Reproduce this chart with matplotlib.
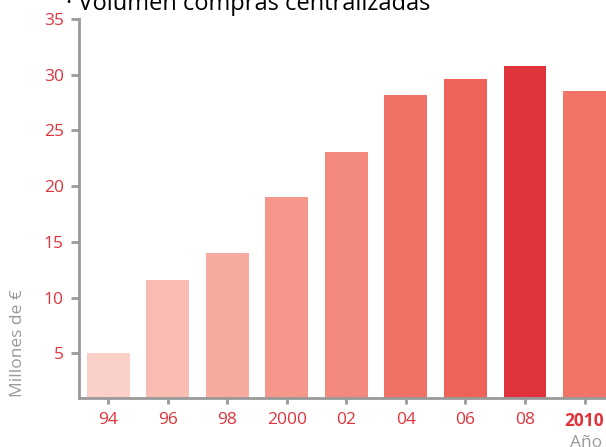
import matplotlib.pyplot as plt

years = ['94', '96', '98', '2000', '02', '04', '06', '08', '2010']
values = [5.0, 11.6, 14.0, 19.0, 23.1, 28.2, 29.6, 30.8, 28.5]
colors = ['#FAD0C9', '#F9BCB3', '#F7AA9E', '#F5978B', '#F3887C', '#F07267',
          '#EE625A', '#E0333B', '#F07468']
yticks = [5, 10, 15, 20, 25, 30, 35]

red = '#E0333B'
grey = '#999999'

plt.rcParams['font.family'] = ['Open Sans', 'DejaVu Sans']

fig = plt.figure(figsize=(6.06, 4.47), dpi=100)
ax = fig.add_axes([79 / 606, 1 - 398 / 447, 1 - 79 / 606, (398 - 19) / 447])

x = range(len(years))
ax.bar(x, values, width=0.72, color=colors, bottom=0)
ax.set_xlim(-0.49, 8.36)
ax.set_ylim(1, 35)

ax.set_xticks(list(x))
ax.set_xticklabels(years)
ax.set_yticks(yticks)
ax.tick_params(axis='both', colors=grey, labelcolor=red, labelsize=12.5,
               width=2, length=6)
ax.tick_params(axis='x', length=4, pad=6)
ax.tick_params(axis='y', pad=5)
ax.get_xticklabels()[-1].set_fontweight('bold')

for s in ['top', 'right']:
    ax.spines[s].set_visible(False)
for s in ['left', 'bottom']:
    ax.spines[s].set_color(grey)
    ax.spines[s].set_linewidth(2)

fig.text(66 / 606, 1 - 10.5 / 447, '\u00b7 Volumen compras centralizadas',
         fontsize=17, color='black', va='baseline', ha='left')
fig.text(18 / 606, 1 - 343 / 447, 'Millones de \u20ac', rotation=90,
         fontsize=12.5, color=grey, ha='center', va='center')
fig.text(570 / 606, 1 - 435 / 447, 'A\u00f1o', fontsize=12.5, color=grey,
         ha='left', va='top')

fig.savefig('out.png', dpi=100)
